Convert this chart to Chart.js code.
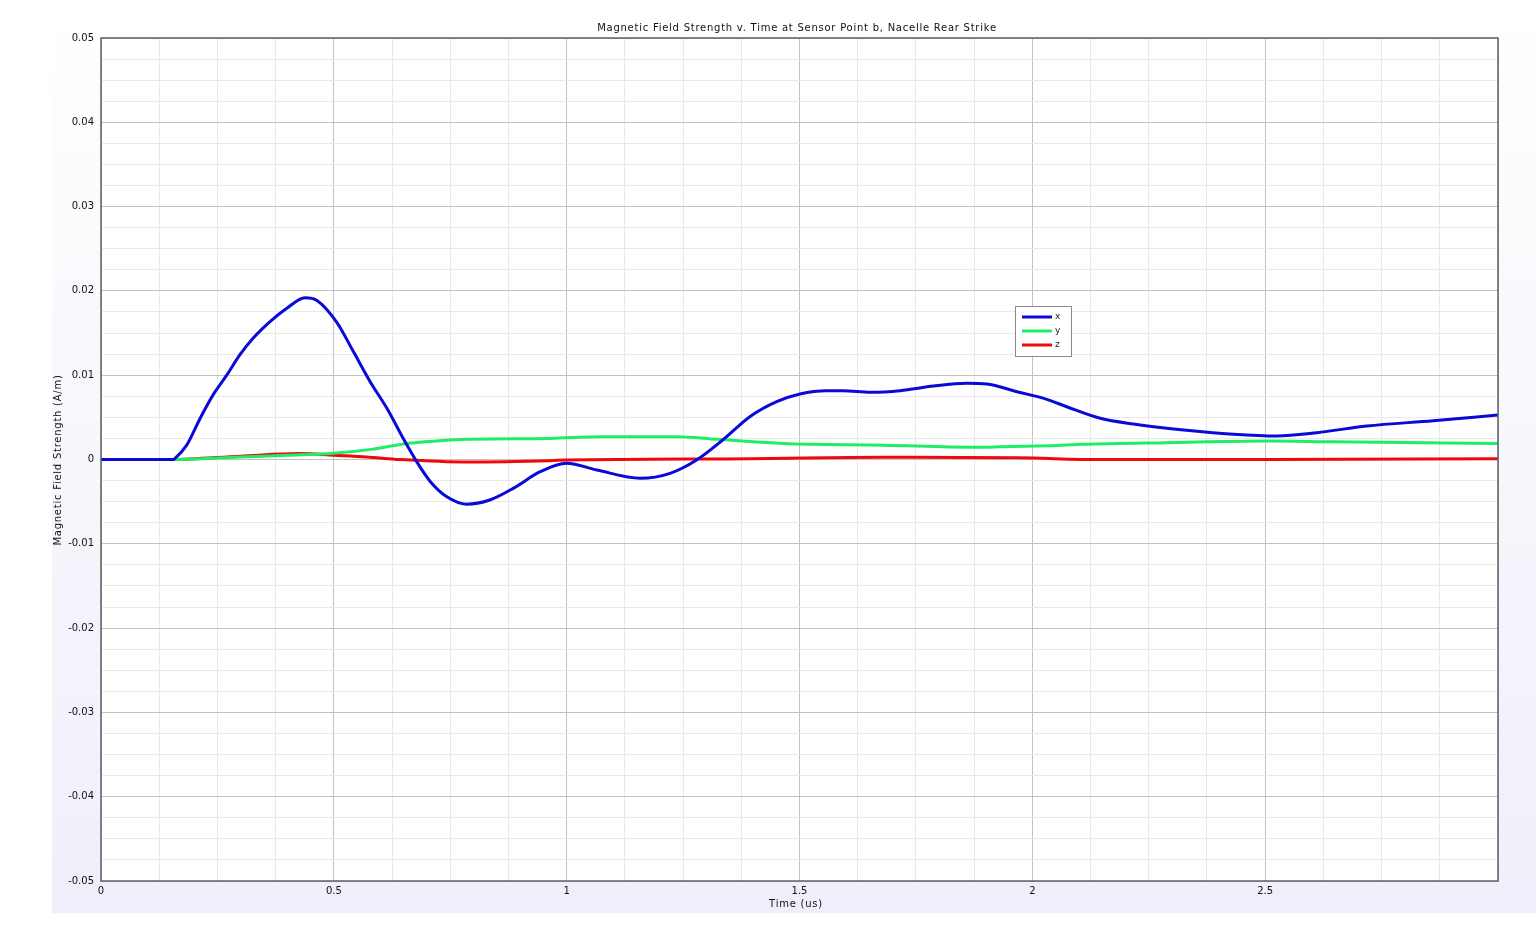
<!DOCTYPE html>
<html>
<head>
<meta charset="utf-8">
<title>Magnetic Field Strength v. Time</title>
<script src="https://cdn.jsdelivr.net/npm/chart.js@4.4.1/dist/chart.umd.min.js"></script>
<style>
    html, body { margin: 0; padding: 0; background: #ffffff; }
    #wrap { width: 1536px; height: 934px; position: relative; }
</style>
</head>
<body>
<div id="wrap"><canvas id="fieldChart" width="1536" height="934"></canvas></div>
<script>
// Chart data
const titleText = 'Magnetic Field Strength v. Time at Sensor Point b, Nacelle Rear Strike';
const xTitle = 'Time (us)';
const yTitle = 'Magnetic Field Strength (A/m)';
const seriesNames = ['x', 'y', 'z'];

const timeX = [0, 0.155, 0.159, 0.184, 0.213, 0.241, 0.27, 0.298, 0.327, 0.363, 0.399, 0.438, 0.463, 0.506, 0.542, 0.578, 0.614, 0.649, 0.678, 0.707, 0.742, 0.785, 0.835, 0.886, 0.943, 1.0, 1.065, 1.158, 1.222, 1.279, 1.337, 1.394, 1.451, 1.501, 1.558, 1.594, 1.652, 1.716, 1.788, 1.859, 1.902, 1.967, 2.031, 2.074, 2.146, 2.217, 2.325, 2.432, 2.525, 2.611, 2.718, 2.861, 3.0];
const fieldX = [0, 0, 0.00014, 0.0017, 0.0049, 0.0077, 0.01, 0.0124, 0.0144, 0.01635, 0.01794, 0.0192, 0.0189, 0.0163, 0.0128, 0.00923, 0.00607, 0.0025, -0.00026, -0.0026, -0.0044, -0.0053, -0.0048, -0.0034, -0.00145, -0.00045, -0.00125, -0.00223, -0.00164, -0.00006, 0.0024, 0.0051, 0.00686, 0.00777, 0.00816, 0.00816, 0.00797, 0.00816, 0.00872, 0.00904, 0.00896, 0.00804, 0.00714, 0.00626, 0.00489, 0.00421, 0.0035, 0.003, 0.00279, 0.00318, 0.00397, 0.0046, 0.00528];

const timeY = [0, 0.15, 0.3, 0.4, 0.5, 0.58, 0.657, 0.72, 0.785, 0.964, 1.072, 1.236, 1.322, 1.466, 1.68, 1.874, 1.931, 2.038, 2.11, 2.289, 2.504, 2.646, 3.0];
const fieldY = [0, 0, 0.0003, 0.0005, 0.00074, 0.0012, 0.0019, 0.0022, 0.0024, 0.0025, 0.0027, 0.0027, 0.0024, 0.0019, 0.0017, 0.00145, 0.0015, 0.00164, 0.0018, 0.002, 0.0022, 0.0021, 0.0019];

const timeZ = [0, 0.15, 0.3, 0.427, 0.5, 0.57, 0.642, 0.785, 0.964, 1.0, 1.394, 1.68, 1.97, 2.146, 2.5, 3.0];
const fieldZ = [0, 0, 0.0004, 0.0007, 0.0005, 0.0003, 0, -0.0003, -0.00014, -0.00006, 0.0001, 0.00026, 0.0002, 0, 0, 0.0001];

const seriesColors = ['#0a0ad8', '#1eee66', '#ee0a0a'];

function toPoints(ts, vs) {
    return ts.map((t, i) => ({ x: t, y: vs[i] }));
}

function isMultiple(v, step) {
    const r = v / step;
    return Math.abs(r - Math.round(r)) < 1e-6;
}

// background, plot frame, titles and legend box
const decorPlugin = {
    id: 'decor',
    beforeDraw(chart) {
        const ctx = chart.ctx;
        const area = chart.chartArea;
        ctx.save();
        ctx.fillStyle = '#ffffff';
        ctx.fillRect(0, 0, chart.width, chart.height);
        const grad = ctx.createLinearGradient(0, 0, 0, 913);
        grad.addColorStop(0, '#ffffff');
        grad.addColorStop(1, '#eeeffa');
        ctx.fillStyle = grad;
        ctx.fillRect(52, 0, chart.width - 52, 913);
        ctx.fillStyle = '#ffffff';
        ctx.fillRect(area.left, area.top, area.right - area.left, area.bottom - area.top);
        ctx.restore();
    },
    afterDraw(chart) {
        const ctx = chart.ctx;
        const area = chart.chartArea;
        ctx.save();
        ctx.strokeStyle = '#606060';
        ctx.lineWidth = 1.5;
        ctx.strokeRect(area.left, area.top, area.right - area.left, area.bottom - area.top);

        // titles (slightly letter-spaced like the original)
        ctx.fillStyle = '#111111';
        ctx.font = '10px "DejaVu Sans"';
        ctx.letterSpacing = '0.75px';
        ctx.textAlign = 'center';
        ctx.textBaseline = 'middle';
        ctx.fillText(titleText, 797, 28);
        ctx.fillText(xTitle, 796, 904);
        ctx.save();
        ctx.translate(58, 460);
        ctx.rotate(-Math.PI / 2);
        ctx.fillText(yTitle, 0, 0);
        ctx.restore();
        ctx.letterSpacing = '0px';

        // legend
        const bx = 1015, by = 306, bw = 56, bh = 50;
        ctx.fillStyle = '#ffffff';
        ctx.fillRect(bx, by, bw, bh);
        ctx.strokeStyle = '#8a8a8a';
        ctx.lineWidth = 1;
        ctx.strokeRect(bx + 0.5, by + 0.5, bw, bh);
        ctx.font = '9px "DejaVu Sans"';
        ctx.textAlign = 'left';
        chart.data.datasets.forEach((ds, i) => {
            const ly = by + 11 + i * 14;
            ctx.strokeStyle = ds.borderColor;
            ctx.lineWidth = 3;
            ctx.beginPath();
            ctx.moveTo(bx + 7, ly);
            ctx.lineTo(bx + 37, ly);
            ctx.stroke();
            ctx.fillStyle = '#222222';
            ctx.fillText(ds.label, bx + 40, ly);
        });
        ctx.restore();
    }
};

const canvas = document.getElementById('fieldChart');
new Chart(canvas, {
    type: 'line',
    data: {
        datasets: [
            { label: seriesNames[0], data: toPoints(timeX, fieldX), borderColor: seriesColors[0] },
            { label: seriesNames[1], data: toPoints(timeY, fieldY), borderColor: seriesColors[1] },
            { label: seriesNames[2], data: toPoints(timeZ, fieldZ), borderColor: seriesColors[2] }
        ]
    },
    options: {
        responsive: false,
        animation: false,
        devicePixelRatio: 1,
        datasets: {
            line: {
                borderWidth: 3,
                pointRadius: 0,
                fill: false,
                cubicInterpolationMode: 'monotone'
            }
        },
        layout: { padding: { left: 52, right: 38, top: 38, bottom: 21 } },
        plugins: {
            legend: { display: false },
            title: { display: false },
            tooltip: { enabled: false }
        },
        scales: {
            x: {
                type: 'linear',
                min: 0,
                max: 3,
                afterFit: (scale) => { scale.height = 32; },
                border: { display: false },
                grid: {
                    drawTicks: false,
                    lineWidth: 1,
                    color: (c) => isMultiple(c.tick.value, 0.5) ? '#c2c2c2' : '#e9e9e9'
                },
                ticks: {
                    stepSize: 0.125,
                    autoSkip: false,
                    maxRotation: 0,
                    padding: 4,
                    color: '#111111',
                    font: { family: 'DejaVu Sans', size: 10 },
                    callback: (v) => (isMultiple(v, 0.5) && v < 2.99) ? String(Math.round(v * 10) / 10) : ''
                }
            },
            y: {
                type: 'linear',
                min: -0.05,
                max: 0.05,
                afterFit: (scale) => { scale.width = 49; },
                border: { display: false },
                grid: {
                    drawTicks: false,
                    lineWidth: 1,
                    color: (c) => isMultiple(c.tick.value, 0.01) ? '#c2c2c2' : '#e9e9e9'
                },
                ticks: {
                    stepSize: 0.0025,
                    autoSkip: false,
                    padding: 7,
                    color: '#111111',
                    font: { family: 'DejaVu Sans', size: 10 },
                    callback: (v) => isMultiple(v, 0.01) ? String(Math.round(v * 100) / 100) : ''
                }
            }
        }
    },
    plugins: [decorPlugin]
});
</script>
</body>
</html>
